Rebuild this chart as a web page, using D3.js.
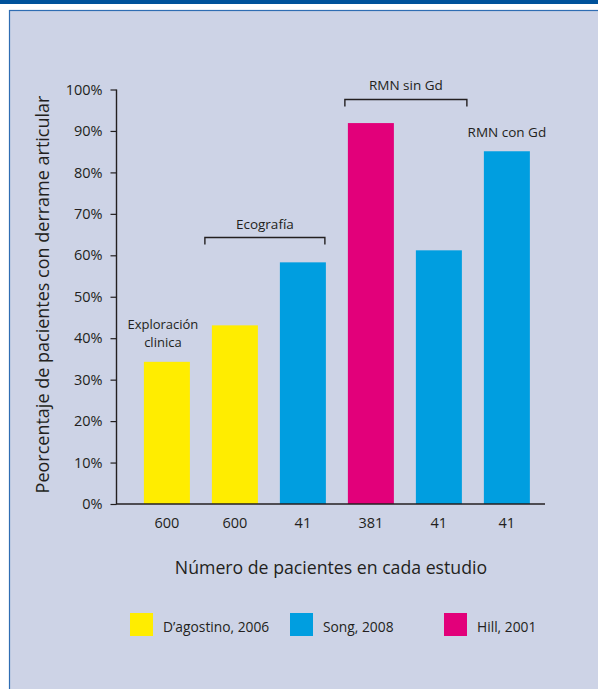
<!DOCTYPE html>
<html>
<head>
<meta charset="utf-8">
<script src="https://cdn.jsdelivr.net/npm/d3@7"></script>
<style>
  html, body { margin: 0; padding: 0; background: #ffffff; }
  svg { display: block; }
  text { font-family: "Open Sans", "Noto Sans", sans-serif; fill: #231f20; }
</style>
</head>
<body>
<script>
// Study data: one bar per study arm
const studyIds   = ["a", "b", "c", "d", "e", "f"];
const patients   = ["600", "600", "41", "381", "41", "41"];
const percents   = [34.3, 43.1, 58.3, 91.9, 61.2, 85.1];
const authors    = ["dag", "dag", "song", "hill", "song", "song"];

// Legend entries
const legendKeys   = ["dag", "song", "hill"];
const legendLabels = ["D\u2019agostino, 2006", "Song, 2008", "Hill, 2001"];
const legendColors = ["#ffed00", "#009ee0", "#e2007a"];

const yTicks = [0, 10, 20, 30, 40, 50, 60, 70, 80, 90, 100];

const W = 598, H = 689;
const svg = d3.select("body").append("svg").attr("width", W).attr("height", H);

// Frame: dark header strip, thin rule, tinted panel
svg.append("rect").attr("x", 0).attr("y", 0).attr("width", W).attr("height", 4).attr("fill", "#00529b");
svg.append("rect").attr("x", 9.5).attr("y", 10.5).attr("width", W).attr("height", H)
  .attr("fill", "#cdd3e6").attr("stroke", "#2f6db3").attr("stroke-width", 1.2);

const color = d3.scaleOrdinal().domain(legendKeys).range(legendColors);

const x = d3.scaleBand().domain(studyIds).range([117, 545])
  .paddingInner(0.3235).paddingOuter(0.309).align(0.64);
const y = d3.scaleLinear().domain([0, 100]).range([504, 89.5]);

// Bars
svg.append("g").selectAll("rect").data(studyIds).join("rect")
  .attr("x", d => x(d))
  .attr("y", (d, i) => y(percents[i]))
  .attr("width", x.bandwidth())
  .attr("height", (d, i) => y(0) - y(percents[i]))
  .attr("fill", (d, i) => color(authors[i]));

// Y axis
const yAxis = svg.append("g").attr("transform", "translate(116.5,0)")
  .call(d3.axisLeft(y).tickValues(yTicks).tickFormat(d => d + "%").tickSize(6).tickPadding(8));
yAxis.select(".domain").attr("stroke", "#231f20").attr("stroke-width", 1.4).attr("d", "M0,89.5V504");
yAxis.selectAll(".tick line").attr("stroke", "#231f20").attr("stroke-width", 1.2);
yAxis.selectAll(".tick text").attr("font-size", 14.5).attr("font-family", "\"Open Sans\", sans-serif").attr("fill", "#231f20");

// X axis (patient counts)
const xAxis = svg.append("g").attr("transform", "translate(0,504)")
  .call(d3.axisBottom(x).tickFormat((d, i) => patients[i]).tickSize(0).tickPadding(14));
xAxis.select(".domain").attr("stroke", "#231f20").attr("stroke-width", 1.6).attr("d", "M116,0H545");
xAxis.selectAll(".tick text").attr("font-size", 14.5).attr("font-family", "\"Open Sans\", sans-serif").attr("fill", "#231f20");

// Axis titles
svg.append("text")
  .attr("transform", "translate(49,294.5) rotate(-90)")
  .attr("text-anchor", "middle").attr("font-size", 18)
  .text("Peorcentaje de pacientes con derrame articular");
svg.append("text")
  .attr("x", 331).attr("y", 574).attr("text-anchor", "middle").attr("font-size", 17.7)
  .text("N\u00famero de pacientes en cada estudio");

// Group brackets
function bracket(a, b, top, x0off, x1off, label, ty) {
  const x0 = x(a) + x0off, x1 = x(b) + x.bandwidth() + x1off;
  svg.append("path")
    .attr("d", `M${x0},${top + 7}V${top}H${x1}V${top + 7}`)
    .attr("fill", "none").attr("stroke", "#231f20").attr("stroke-width", 1.4);
  svg.append("text").attr("x", (x0 + x1) / 2).attr("y", ty)
    .attr("text-anchor", "middle").attr("font-size", 13.5).text(label);
}
bracket("b", "c", 237.5, -7, -1, "Ecograf\u00eda", 229);
bracket("d", "e", 99.5, -3, 5, "RMN sin Gd", 90);

// Annotations over single bars
svg.append("text").attr("x", x("f") + x.bandwidth() / 2).attr("y", 137)
  .attr("text-anchor", "middle").attr("font-size", 13.5).text("RMN con Gd");
const explX = x("a") + x.bandwidth() / 2 - 4;
svg.append("text").attr("x", explX).attr("y", 329)
  .attr("text-anchor", "middle").attr("font-size", 13).text("Exploraci\u00f3n");
svg.append("text").attr("x", explX).attr("y", 346.5)
  .attr("text-anchor", "middle").attr("font-size", 13).text("clinica");

// Legend
const legendX = [130, 290, 444];
const lg = svg.append("g").selectAll("g").data(legendKeys).join("g")
  .attr("transform", (d, i) => `translate(${legendX[i]},613)`);
lg.append("rect").attr("width", 23).attr("height", 23).attr("fill", d => color(d));
lg.append("text").attr("x", 33).attr("y", 19).attr("font-size", 13.8)
  .text((d, i) => legendLabels[i]);
</script>
</body>
</html>
